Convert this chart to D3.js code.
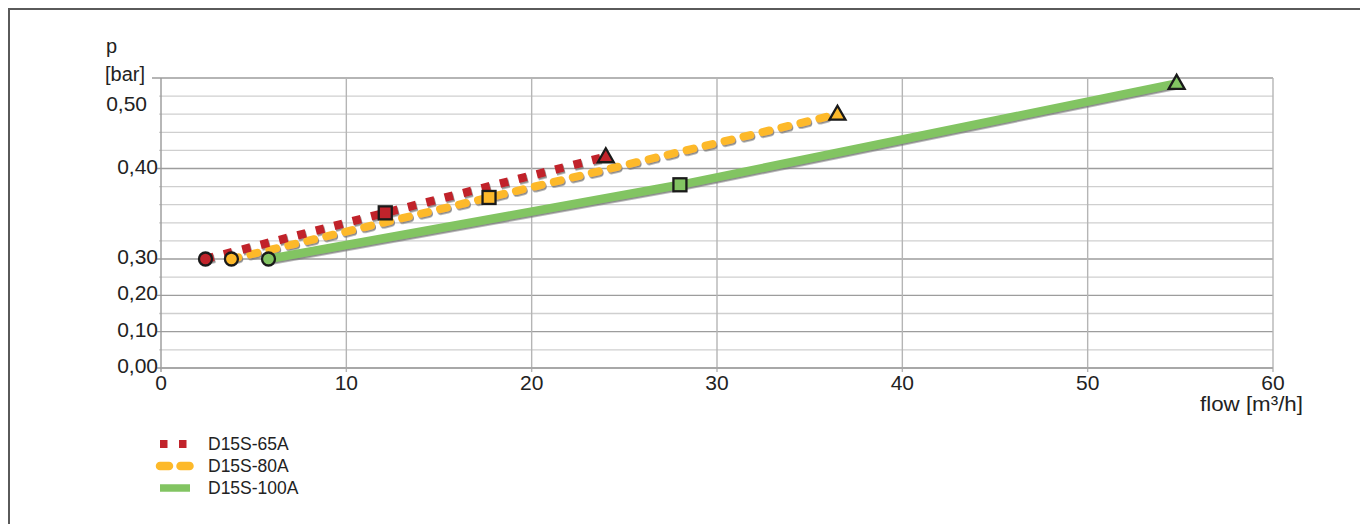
<!DOCTYPE html>
<html>
<head>
<meta charset="utf-8">
<script src="https://cdn.jsdelivr.net/npm/d3@7/dist/d3.min.js"></script>
<style>
  html, body { margin: 0; padding: 0; background: #fff; }
  svg { display: block; font-family: "Liberation Sans", Arial, sans-serif; }
</style>
</head>
<body>
<svg id="chart" width="1360" height="524"></svg>
<script>
// ---- data ----
const seriesNames = ["D15S-65A", "D15S-80A", "D15S-100A"];
const flow65  = [2.4, 12.1, 24.0];
const p65     = [0.30, 0.351, 0.413];
const flow80  = [3.8, 17.7, 36.5];
const p80     = [0.30, 0.368, 0.460];
const flow100 = [5.8, 28.0, 54.8];
const p100    = [0.30, 0.382, 0.494];
const xTicks = [0, 10, 20, 30, 40, 50, 60];
const yMajor = [0.00, 0.10, 0.20, 0.30, 0.40, 0.50];
const yMajorLabels = ["0,00", "0,10", "0,20", "0,30", "0,40", "0,50"];
const yMinor = [0.05, 0.15, 0.25, 0.32, 0.34, 0.36, 0.38, 0.42, 0.44, 0.46, 0.48];

// ---- layout / styles ----
const svg = d3.select("#chart");
const x = d3.scaleLinear().domain([0, 60]).range([161, 1273]);
const y = d3.scaleLinear().domain([0, 0.30, 0.50]).range([368, 259, 78]);

const colors = ["#C1232B", "#FDB92A", "#82C462"];
const series = [
  { name: seriesNames[0], xs: flow65, ys: p65 },
  { name: seriesNames[1], xs: flow80, ys: p80 },
  { name: seriesNames[2], xs: flow100, ys: p100 }
];

// defs: drop shadow
const defs = svg.append("defs");
const f = defs.append("filter").attr("id", "shadow").attr("x", "-5%").attr("y", "-50%").attr("width", "110%").attr("height", "200%");
f.append("feDropShadow").attr("dx", 1).attr("dy", 1.6).attr("stdDeviation", 0.6)
  .attr("flood-color", "#777").attr("flood-opacity", 0.85);

// outer frame
svg.append("path").attr("d", "M9,524 L9,9 L1360,9").attr("fill", "none")
  .attr("stroke", "#5a5a5a").attr("stroke-width", 2);

// gridlines
const g = svg.append("g");
g.selectAll("line.minor").data(yMinor).join("line")
  .attr("x1", x(0) - 2).attr("x2", x(60))
  .attr("y1", d => y(d)).attr("y2", d => y(d))
  .attr("stroke", "#cfcfcf").attr("stroke-width", 1.3);
g.selectAll("line.major").data(yMajor).join("line")
  .attr("x1", (d, i) => d === 0.5 ? x(0) - 9 : x(0) - 4).attr("x2", x(60))
  .attr("y1", d => y(d)).attr("y2", d => y(d))
  .attr("stroke", "#9d9d9d").attr("stroke-width", 1.3);
g.selectAll("line.v").data(xTicks).join("line")
  .attr("x1", d => x(d)).attr("x2", d => x(d))
  .attr("y1", y(0.5)).attr("y2", y(0) + 4)
  .attr("stroke", d => (d === 0 ? "#999" : "#b5b5b5")).attr("stroke-width", 1.4);
// axis lines
g.append("line").attr("x1", x(0)).attr("x2", x(60)).attr("y1", y(0)).attr("y2", y(0))
  .attr("stroke", "#a5a5a5").attr("stroke-width", 1.5);

// y labels
svg.append("g").selectAll("text").data(yMajor).join("text")
  .attr("x", d => d === 0.5 ? 147 : 158)
  .attr("y", d => d === 0.5 ? y(d) + 33 : y(d) + 5)
  .attr("text-anchor", "end")
  .attr("font-size", 21).attr("fill", "#222")
  .text((d, i) => yMajorLabels[i]);

svg.append("text").attr("x", 106).attr("y", 53).attr("font-size", 20).attr("fill", "#222").text("p");
svg.append("text").attr("x", 105).attr("y", 81).attr("font-size", 20).attr("fill", "#222").text("[bar]");

// x labels
svg.append("g").selectAll("text").data(xTicks).join("text")
  .attr("x", d => x(d)).attr("y", 390)
  .attr("text-anchor", "middle")
  .attr("font-size", 21).attr("fill", "#222")
  .text(d => d);
svg.append("text").attr("x", 1303).attr("y", 411).attr("text-anchor", "end")
  .attr("font-size", 20).attr("fill", "#222")
  .attr("textLength", 103).attr("lengthAdjust", "spacingAndGlyphs")
  .text("flow [m³/h]");

// lines
const line = d3.line().x(d => x(d[0])).y(d => y(d[1]));
const lineStyles = [
  { w: 8.5, dash: "8.5,10.5", cap: "butt" },
  { w: 8, dash: "7,12.5", cap: "round" },
  { w: 8.5, dash: null, cap: "butt" }
];
const lg = svg.append("g").attr("filter", "url(#shadow)");
[2, 1, 0].forEach(i => {
  const s = series[i];
  const pts = s.xs.map((v, k) => [v, s.ys[k]]);
  lg.append("path").attr("d", line(pts)).attr("fill", "none")
    .attr("stroke", colors[i]).attr("stroke-width", lineStyles[i].w)
    .attr("stroke-linecap", lineStyles[i].cap)
    .attr("stroke-dasharray", lineStyles[i].dash);
});

// markers
const mg = svg.append("g");
series.forEach((s, i) => {
  const pts = s.xs.map((v, k) => [v, s.ys[k]]);
  mg.append("circle").attr("cx", x(pts[0][0])).attr("cy", y(pts[0][1])).attr("r", 6.5)
    .attr("fill", colors[i]).attr("stroke", "#1a1a1a").attr("stroke-width", 2.3);
  mg.append("rect").attr("x", x(pts[1][0]) - 6.5).attr("y", y(pts[1][1]) - 6.5)
    .attr("width", 13).attr("height", 13)
    .attr("fill", colors[i]).attr("stroke", "#1a1a1a").attr("stroke-width", 2.3);
  const tx = x(pts[2][0]), ty = y(pts[2][1]);
  mg.append("path").attr("d", `M${tx},${ty - 8.5} L${tx + 8},${ty + 5.5} L${tx - 8},${ty + 5.5} Z`)
    .attr("fill", colors[i]).attr("stroke", "#1a1a1a").attr("stroke-width", 2.3)
    .attr("stroke-linejoin", "miter");
});

// legend
const leg = svg.append("g");
const legY = [444, 466, 488];
leg.append("line").attr("x1", 160).attr("x2", 190).attr("y1", legY[0]).attr("y2", legY[0])
  .attr("stroke", colors[0]).attr("stroke-width", 8).attr("stroke-dasharray", "7.5,11.5");
leg.append("line").attr("x1", 160).attr("x2", 190).attr("y1", legY[1]).attr("y2", legY[1])
  .attr("stroke", colors[1]).attr("stroke-width", 8.5).attr("stroke-linecap", "round")
  .attr("stroke-dasharray", "9,11.5");
leg.append("line").attr("x1", 160).attr("x2", 190).attr("y1", legY[2]).attr("y2", legY[2])
  .attr("stroke", colors[2]).attr("stroke-width", 7.5);
leg.selectAll("text").data(seriesNames).join("text")
  .attr("x", 208).attr("y", (d, i) => legY[i] + 6)
  .attr("font-size", 17.5).attr("fill", "#222")
  .text(d => d);
</script>
</body>
</html>
